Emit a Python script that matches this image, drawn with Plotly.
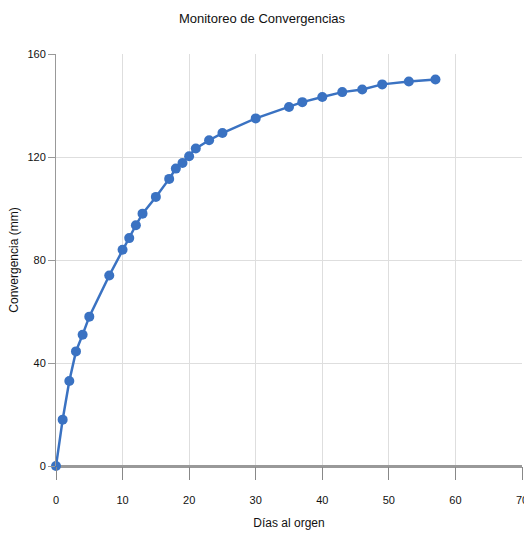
import plotly.graph_objects as go

dias = [0, 1, 2, 3, 4, 5, 8, 10, 11, 12, 13, 15, 17, 18, 19, 20, 21, 23, 25,
        30, 35, 37, 40, 43, 46, 49, 53, 57]
convergencia = [0, 18, 33, 44.5, 51, 58, 74, 84, 88.5, 93.5, 98, 104.5, 111.5,
                115.5, 117.7, 120.3, 123.3, 126.5, 129.3, 135, 139.4, 141.3,
                143.3, 145.2, 146.2, 148.2, 149.3, 150.1]
x_ticks = [0, 10, 20, 30, 40, 50, 60, 70]
y_ticks = [0, 40, 80, 120, 160]

fig = go.Figure()
fig.add_trace(go.Scatter(
    x=dias, y=convergencia, mode="lines+markers",
    line=dict(color="#3a72c2", width=2.5),
    marker=dict(color="#3a72c2", size=10),
    cliponaxis=False, showlegend=False,
))

fig.update_layout(
    width=524, height=537,
    margin=dict(l=56, r=2, t=54, b=71),
    paper_bgcolor="white", plot_bgcolor="white",
    font=dict(family="Liberation Sans, Arial, sans-serif", color="#111", size=11),
    title=dict(text="Monitoreo de Convergencias", x=0.5, xanchor="center",
               y=1 - 18 / 537, yanchor="middle",
               font=dict(size=13, color="#111")),
    xaxis=dict(
        range=[0, 70], tickvals=x_ticks, showgrid=True, gridcolor="#dedede",
        gridwidth=1, zeroline=False, showline=False,
        ticks="outside", ticklen=13, tickcolor="#888", tickwidth=1,
        ticklabelstandoff=11, ticklabeloverflow="allow", automargin="bottom",
        title=dict(text="Días al orgen", font=dict(size=12, color="#111"), standoff=13),
        tickfont=dict(size=11, color="#111"),
    ),
    yaxis=dict(
        range=[0, 160], tickvals=y_ticks, showgrid=True, gridcolor="#dedede",
        gridwidth=1, zeroline=True, zerolinecolor="#999", zerolinewidth=2.5,
        showline=True, linecolor="#999", linewidth=1,
        ticks="outside", ticklen=7, tickcolor="#999", tickwidth=1,
        automargin="left",
        title=dict(text="Convergencia (mm)", font=dict(size=12, color="#111"), standoff=6),
        tickfont=dict(size=11, color="#111"),
    ),
)

fig.write_html("out.html")
